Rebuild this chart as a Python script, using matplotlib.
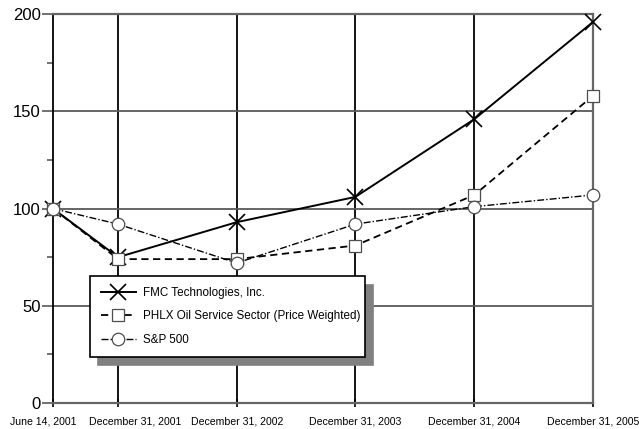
import datetime
import matplotlib
matplotlib.use("Agg")
from matplotlib import pyplot
from matplotlib import transforms

# data
dates = [datetime.date(2001, 6, 14), datetime.date(2001, 12, 31), datetime.date(2002, 12, 31),
         datetime.date(2003, 12, 31), datetime.date(2004, 12, 31), datetime.date(2005, 12, 31)]
date_labels = ["June 14, 2001", "December 31, 2001", "December 31, 2002",
               "December 31, 2003", "December 31, 2004", "December 31, 2005"]
fmc = [100, 75, 93, 106, 146, 196]
phlx = [100, 74, 74, 81, 107, 158]
spx = [100, 92, 72, 92, 101, 107]
series_names = ["FMC Technologies, Inc.", "PHLX Oil Service Sector (Price Weighted)", "S&P 500"]

pyplot.rcParams["font.family"] = ["Liberation Sans", "DejaVu Sans"]

fig = pyplot.figure(figsize=(6.39, 4.29), dpi=100)
ax = fig.add_axes([0.083, 0.0606, 0.845, 0.9064])

# grid lines
for d in dates[1:-1]:
    ax.axvline(d, color="k", lw=1.3, zorder=1)
for v in [50, 100, 150]:
    ax.axhline(v, color="0.35", lw=1.3, zorder=1)

l1, = ax.plot(dates, fmc, color="k", lw=1.4, marker="x", ms=11, mew=1.2, zorder=3,
              clip_on=False)
l2, = ax.plot(dates, phlx, color="k", lw=1.3, ls=(0, (4, 2.5)), marker="s", ms=8,
              mfc="w", mec="0.3", mew=0.9, zorder=3, clip_on=False)
l3, = ax.plot(dates, spx, color="k", lw=1.0, ls=(0, (5, 1.5, 1, 1.5)), marker="o", ms=9,
              mfc="w", mec="0.3", mew=0.9, zorder=3, clip_on=False)

ax.set_xlim(dates[0], dates[-1])
ax.set_ylim(0, 200)
ax.set_xticks(dates)
ax.set_xticklabels(date_labels, fontsize=7.6)
ax.set_yticks([0, 50, 100, 150, 200])
ax.set_yticks([25, 75, 125, 175], minor=True)
ax.tick_params(axis="y", labelsize=12, length=8, width=1.2, color="0.35", pad=1)
ax.tick_params(axis="y", which="minor", length=4, width=1.2, color="0.35")
ax.tick_params(axis="x", length=6, width=1.2, direction="inout", pad=7)

# nudge the two crowded labels apart
xlabels = ax.get_xticklabels()
xlabels[0].set_transform(xlabels[0].get_transform()
                         + transforms.ScaledTranslation(-10 / 100, 0, fig.dpi_scale_trans))
xlabels[1].set_transform(xlabels[1].get_transform()
                         + transforms.ScaledTranslation(17 / 100, 0, fig.dpi_scale_trans))

for side in ["top", "right", "bottom"]:
    ax.spines[side].set_color("0.4")
    ax.spines[side].set_linewidth(1.6)
ax.spines["left"].set_color("k")
ax.spines["left"].set_linewidth(1.3)

leg = ax.legend([l1, l2, l3], series_names, loc="upper left",
                bbox_to_anchor=(0.0685, 0.326, 0.51, 0.0), borderaxespad=0, mode="expand",
                fontsize=8.4, fancybox=False, edgecolor="k", framealpha=1,
                shadow={"color": "0.5", "alpha": 1, "ox": 5.5, "oy": -6},
                handlelength=3.0, handletextpad=0.6, labelspacing=1.0, borderpad=0.9)
leg.get_frame().set_linewidth(1.2)
leg.set_zorder(5)

pyplot.savefig("out.png", dpi=100)
